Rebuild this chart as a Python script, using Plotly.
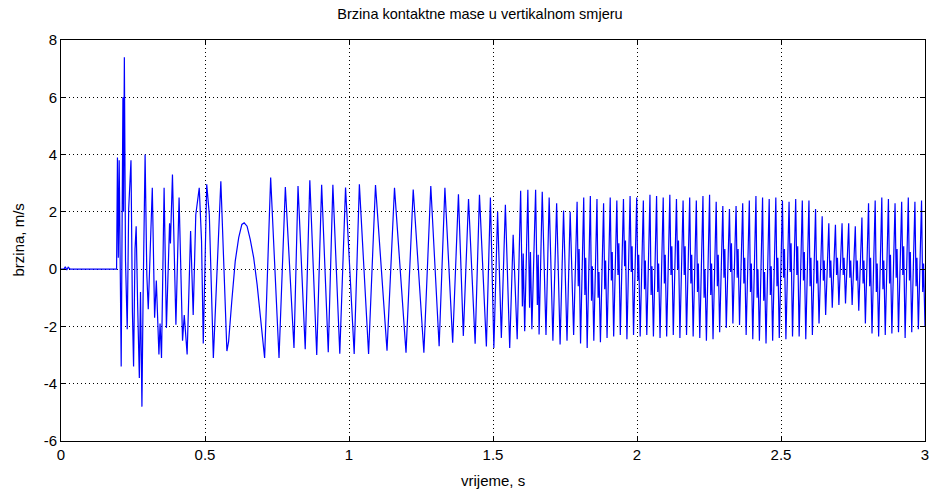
import plotly.graph_objects as go

# ---- data: extrema / samples ----
t_rest = [0.000, 0.010, 0.015, 0.020, 0.025, 0.032, 0.193]
v_rest = [0.00, 0.00, 0.08, -0.03, 0.07, 0.00, 0.00]

t_impact = [0.196, 0.199, 0.202, 0.209, 0.213, 0.215, 0.217, 0.220, 0.224, 0.230,
            0.235, 0.243, 0.248, 0.252, 0.257, 0.261, 0.266, 0.272, 0.276, 0.278,
            0.281, 0.285, 0.292, 0.298, 0.303, 0.317, 0.325, 0.331, 0.340, 0.344,
            0.349, 0.358, 0.366, 0.377, 0.380, 0.387, 0.399, 0.410, 0.422, 0.428,
            0.438, 0.450, 0.459, 0.468, 0.480, 0.488, 0.494, 0.506, 0.515, 0.529,
            0.543, 0.555, 0.576]
v_impact = [3.90, 0.40, 3.80, -3.40, 1.00, 6.00, 2.00, 7.40, 0.30, -2.10,
            2.10, 3.80, -1.50, -3.40, 0.70, 1.50, -1.20, -3.80, -0.80, -2.60,
            -4.80, -1.00, 4.00, -0.20, -1.40, 2.84, -1.70, -0.40, -2.98, -1.90,
            -3.10, 2.84, -2.05, 1.60, 0.90, 3.30, -1.94, 2.50, -2.50, -1.60,
            -2.98, 1.33, -1.60, 1.90, 2.84, 0.98, -2.60, 2.96, 1.90, -3.10,
            0.05, 3.07, -2.86]

t_bump = [0.582, 0.593, 0.605, 0.617, 0.628, 0.636, 0.646, 0.657, 0.669, 0.681,
          0.692, 0.700, 0.707]
v_bump = [-2.52, -1.12, 0.28, 1.10, 1.56, 1.62, 1.50, 1.04, 0.40, -0.54,
          -1.59, -2.52, -3.10]

t_regular = [0.728, 0.757, 0.779, 0.809, 0.823, 0.848, 0.864, 0.888, 0.905, 0.928,
             0.944, 0.968, 0.988, 1.018, 1.036, 1.068, 1.092, 1.132, 1.158, 1.198,
             1.223, 1.260, 1.284, 1.313, 1.333, 1.360]
v_regular = [3.20, -3.10, 2.87, -2.75, 2.90, -2.80, 3.10, -3.00, 2.95, -2.90,
             2.95, -2.95, 2.85, -2.96, 2.96, -2.96, 2.94, -2.85, 2.84, -2.92,
             2.78, -2.92, 2.90, -2.69, 2.84, -2.57]

t_beat1 = [1.380, 1.397, 1.415, 1.438, 1.453, 1.477, 1.491, 1.503, 1.516, 1.529,
           1.543, 1.558, 1.570, 1.584, 1.596, 1.602, 1.605, 1.610, 1.621, 1.627,
           1.630, 1.635, 1.648, 1.654, 1.657, 1.660, 1.671, 1.684, 1.695, 1.708,
           1.721, 1.733, 1.745, 1.757, 1.768, 1.780]
v_beat1 = [2.61, -2.33, 2.45, -2.60, 2.60, -2.70, 2.50, -2.75, 2.00, -2.40,
           2.25, -2.75, 1.20, -2.45, 2.74, -1.30, 0.55, -2.17, 2.77, -1.35,
           0.60, -2.10, 2.77, -1.25, 0.50, -2.28, 2.70, -2.30, 2.50, -2.50,
           2.30, -2.63, 2.05, -2.50, 2.00, -2.30]

# dense beating part: per cycle -> peak, inner dip, inner rise, trough
t_beat2 = [
    1.792, 1.796, 1.799, 1.804,  1.815, 1.819, 1.822, 1.827,  1.838, 1.842, 1.845, 1.850,
    1.861, 1.865, 1.868, 1.873,  1.884, 1.888, 1.891, 1.896,  1.907, 1.911, 1.914, 1.919,
    1.930, 1.934, 1.937, 1.942,  1.953, 1.957, 1.960, 1.965,  1.976, 1.980, 1.983, 1.988,
    1.999, 2.003, 2.006, 2.011,  2.022, 2.026, 2.029, 2.034,  2.045, 2.049, 2.052, 2.057,
    2.068, 2.072, 2.075, 2.080,  2.091, 2.095, 2.098, 2.103,  2.114, 2.118, 2.121, 2.126,
    2.137, 2.141, 2.144, 2.149,  2.160, 2.164, 2.167, 2.172,  2.183, 2.187, 2.190, 2.195,
    2.206, 2.210, 2.213, 2.218,  2.229, 2.233, 2.236, 2.241,  2.252, 2.256, 2.259, 2.264,
    2.275, 2.279, 2.282, 2.287,  2.298, 2.302, 2.305, 2.310,  2.321, 2.325, 2.328, 2.333,
    2.344, 2.348, 2.351, 2.356,  2.367, 2.371, 2.374, 2.379,  2.390, 2.394, 2.397, 2.402,
    2.413, 2.417, 2.420, 2.425,  2.436, 2.440, 2.443, 2.448,  2.459, 2.463, 2.466, 2.471,
    2.482, 2.486, 2.489, 2.494,  2.505, 2.509, 2.512, 2.517,  2.528, 2.532, 2.535, 2.540,
    2.551, 2.555, 2.558, 2.563,  2.574, 2.578, 2.581, 2.586,  2.597, 2.601, 2.604, 2.609,
    2.620, 2.624, 2.627, 2.632,  2.643, 2.647, 2.650, 2.655,  2.666, 2.670, 2.673, 2.678,
    2.689, 2.693, 2.696, 2.701,  2.712, 2.716, 2.719, 2.724,  2.735, 2.739, 2.742, 2.747,
    2.758, 2.762, 2.765, 2.770,  2.781, 2.785, 2.788, 2.793,  2.804, 2.808, 2.811, 2.816,
    2.827, 2.831, 2.834, 2.839,  2.850, 2.854, 2.857, 2.862,  2.873, 2.877, 2.880, 2.885,
    2.896, 2.900, 2.903, 2.908,  2.919, 2.923, 2.926, 2.931,  2.942, 2.946, 2.949, 2.954,
    2.965, 2.969, 2.972, 2.977,  2.988, 2.992, 2.995, 3.000]
v_beat2 = [
    2.35, -0.60, 0.70, -2.60,  2.50, -0.90, 0.40, -2.75,  2.55, -1.10, 0.10, -2.50,
    2.45, -1.00, -0.10, -2.55,  2.30, -0.70, 0.30, -2.40,  2.50, -0.40, 0.60, -2.35,
    2.40, -0.20, 0.90, -2.30,  2.45, 0.10, 1.00, -2.45,  2.55, -0.10, 0.80, -2.30,
    2.50, -0.40, 0.50, -2.35,  2.40, -0.70, 0.30, -2.30,  2.60, -0.90, 0.10, -2.35,
    2.55, -0.80, 0.20, -2.40,  2.50, -0.50, 0.50, -2.35,  2.60, -0.20, 0.80, -2.30,
    2.45, 0.00, 1.00, -2.40,  2.40, -0.20, 0.80, -2.30,  2.50, -0.50, 0.50, -2.35,
    2.40, -0.80, 0.20, -2.40,  2.55, -1.00, 0.00, -2.50,  2.60, -0.90, 0.20, -2.45,
    2.35, -0.60, 0.50, -2.20,  2.20, -0.30, 0.70, -2.05,  2.10, -0.10, 0.90, -1.90,
    2.20, -0.30, 0.70, -1.95,  2.30, -0.50, 0.40, -2.30,  2.40, -0.80, 0.20, -2.45,
    2.55, -1.00, 0.00, -2.50,  2.50, -1.10, -0.10, -2.60,  2.45, -0.90, 0.10, -2.50,
    2.50, -0.60, 0.40, -2.40,  2.40, -0.30, 0.70, -2.45,  2.35, -0.10, 0.90, -2.35,
    2.45, -0.20, 0.80, -2.35,  2.40, -0.40, 0.60, -2.45,  2.40, -0.60, 0.40, -2.30,
    2.10, -0.50, 0.30, -1.90,  1.85, -0.40, 0.30, -1.60,  1.60, -0.30, 0.30, -1.35,
    1.55, -0.20, 0.40, -1.25,  1.60, -0.20, 0.40, -1.20,  1.60, -0.30, 0.30, -1.25,
    1.50, -0.40, 0.30, -1.45,  1.80, -0.50, 0.30, -1.90,  2.30, -0.60, 0.40, -2.25,
    2.40, -0.80, 0.20, -2.35,  2.50, -0.70, 0.30, -2.30,  2.45, -0.50, 0.50, -2.25,
    2.30, -0.30, 0.70, -2.20,  2.35, -0.20, 0.80, -2.40,  2.50, -0.40, 0.60, -2.20,
    2.35, -0.60, 0.40, -2.10,  2.40, -0.80, 0.20, -2.00]

x_ticks = [0, 0.5, 1, 1.5, 2, 2.5, 3]
x_tick_text = ["0", "0.5", "1", "1.5", "2", "2.5", "3"]
y_ticks = [-6, -4, -2, 0, 2, 4, 6, 8]
y_tick_text = ["-6", "-4", "-2", "0", "2", "4", "6", "8"]

t = t_rest + t_impact + t_bump + t_regular + t_beat1 + t_beat2
v = v_rest + v_impact + v_bump + v_regular + v_beat1 + v_beat2

FONT = "Liberation Sans, Arial, sans-serif"

fig = go.Figure(go.Scatter(x=t, y=v, mode="lines",
                           line=dict(color="#0000ff", width=1.2),
                           hoverinfo="skip", showlegend=False))

axis_common = dict(showline=True, linecolor="black", linewidth=1, mirror="ticks",
                   ticks="inside", ticklen=5, tickcolor="black", tickwidth=1,
                   showgrid=True, gridcolor="black", gridwidth=1, griddash="1px,3px",
                   zeroline=False, automargin=False,
                   tickfont=dict(family=FONT, size=15, color="black"))

fig.update_layout(
    width=932, height=491,
    margin=dict(l=61, r=7, t=40, b=50),
    paper_bgcolor="white", plot_bgcolor="white",
    title=dict(text="Brzina kontaktne mase u vertikalnom smjeru",
               font=dict(family=FONT, size=14.5, color="black"),
               xref="container", x=480 / 932, xanchor="center",
               yref="container", y=1 - 14 / 491, yanchor="middle"),
    xaxis=dict(range=[0, 3], tickvals=x_ticks, ticktext=x_tick_text, **axis_common),
    yaxis=dict(range=[-6, 8], tickvals=y_ticks, ticktext=y_tick_text, **axis_common),
    annotations=[
        dict(text="vrijeme, s", xref="paper", yref="paper", x=0.5, y=0,
             xanchor="center", yanchor="middle", yshift=-39, showarrow=False,
             font=dict(family=FONT, size=15, color="black")),
        dict(text="brzina, m/s", xref="paper", yref="paper", x=0, y=0.5,
             xanchor="center", yanchor="middle", xshift=-43, textangle=-90,
             showarrow=False, font=dict(family=FONT, size=15, color="black")),
    ],
)

fig.write_html("out.html", config={"displayModeBar": False},
               post_script="document.body.style.margin='0';document.body.style.padding='0';")
